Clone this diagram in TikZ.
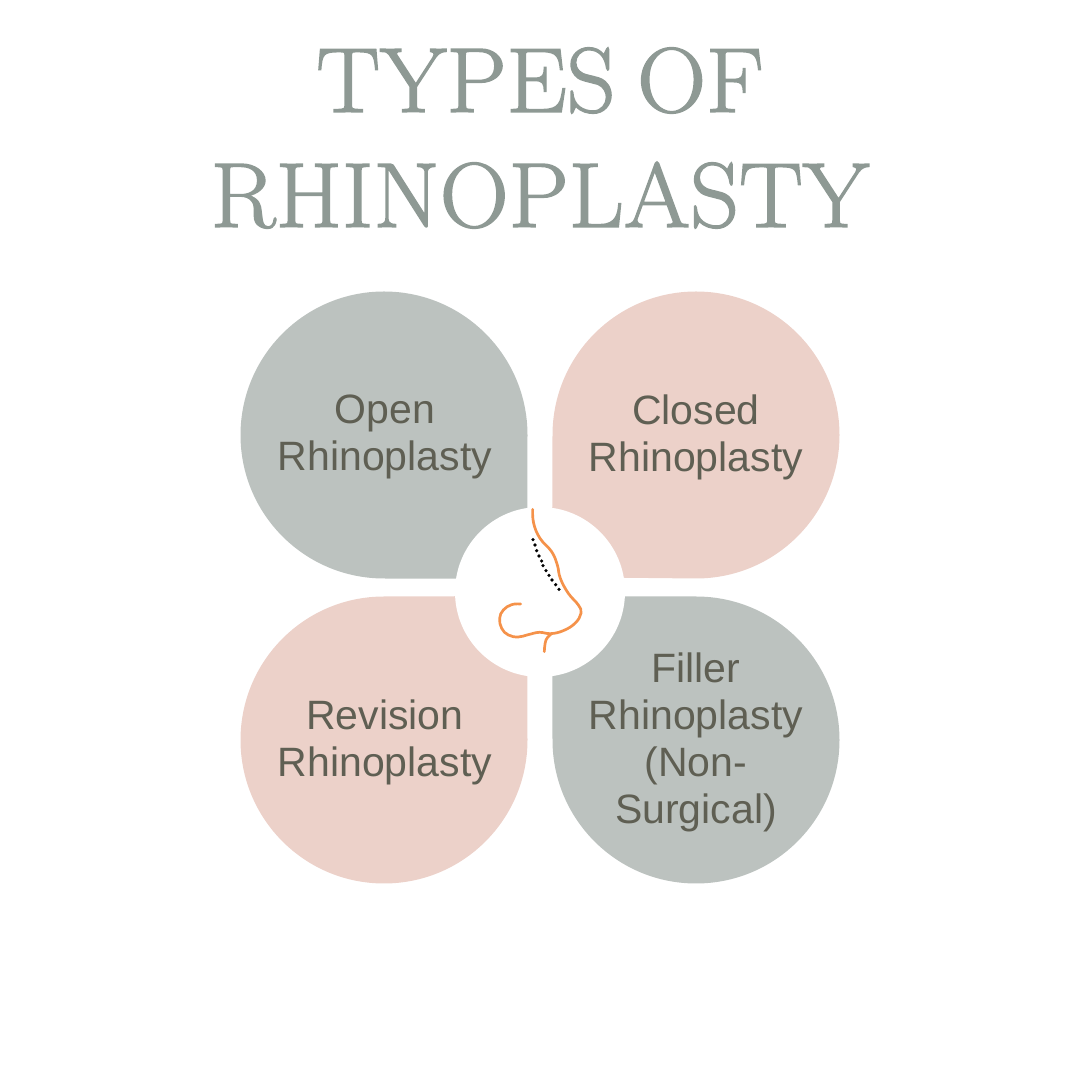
\documentclass[tikz,border=0pt]{standalone}
\usepackage{fontspec}
\newfontfamily\labelfont{Liberation Sans}
\newfontfamily\titlefont[FakeBold=1.6,FakeStretch=1.04,WordSpace=0.75]{Latin Modern Roman}
\definecolor{GR}{RGB}{188, 194, 191}
\definecolor{PK}{RGB}{236, 209, 201}
\definecolor{TX}{RGB}{95, 95, 83}
\definecolor{TT}{RGB}{142, 153, 148}
\definecolor{OR}{RGB}{245, 146, 74}
\tikzset{
  petallabel/.style={color=TX, align=center, font=\labelfont\fontsize{41}{47}\selectfont},
  titlelabel/.style={color=TT, align=center, font=\titlefont\fontsize{92}{115}\selectfont},
  noseline/.style={color=OR, line width=2.7pt, line cap=round},
}
\begin{document}
\begin{tikzpicture}[x=1pt,y=1pt]
  \useasboundingbox (0,0) rectangle (1080,1080);

  %# TITLE
  \node[titlelabel] (title) at (540,942) {TYPES OF\\RHINOPLASTY};

  %# PETALS
  \fill[color=GR] (527.5,645) arc[start angle=0, end angle=270, radius=143.5] -- (527,501) -- cycle;
  \fill[color=PK] (552.5,645) arc[start angle=180, end angle=-90, radius=143.5] -- (552,503) -- cycle;
  \fill[color=PK] (384,483.5) arc[start angle=90, end angle=360, radius=143.5] -- (527,484) -- cycle;
  \fill[color=GR] (552.5,340) arc[start angle=180, end angle=450, radius=143.5] -- (552,483.5) -- cycle;

  %# CENTRE
  \fill[color=white] (540,488) circle (85);

  %# PETAL LABELS
  \node[petallabel] (open) at (385,643) {Open\\Rhinoplasty};
  \node[petallabel] (closed) at (696,643) {Closed\\Rhinoplasty};
  \node[petallabel] (revision) at (385,338) {Revision\\Rhinoplasty};
  \node[petallabel] (filler) at (696,338) {Filler\\Rhinoplasty\\(Non-\\Surgical)};

  %# NOSE
  \begin{scope}[shift={(440,590)}, x=0.3333pt, y=-0.3333pt]
    \draw[noseline] plot[smooth, tension=0.7] coordinates {(278,58) (281,100) (300,145) (335,185) (352,225) (361,265) (385,310) (415,345) (423,370) (405,400) (370,422) (332,431) (298,427) (265,434) (235,441) (205,435) (185,415) (179,385) (190,360) (215,344) (242,342)};
    \draw[noseline] plot[smooth, tension=0.7] coordinates {(335,431) (318,450) (313,485)};
    \foreach \px/\py in {279/149, 285/165, 290/182, 297/198, 305/213, 309/227, 318/242, 327/256, 336/270, 347/284, 357/298}
      \fill[black] (\px,\py) circle (1.8pt);
  \end{scope}
\end{tikzpicture}
\end{document}
